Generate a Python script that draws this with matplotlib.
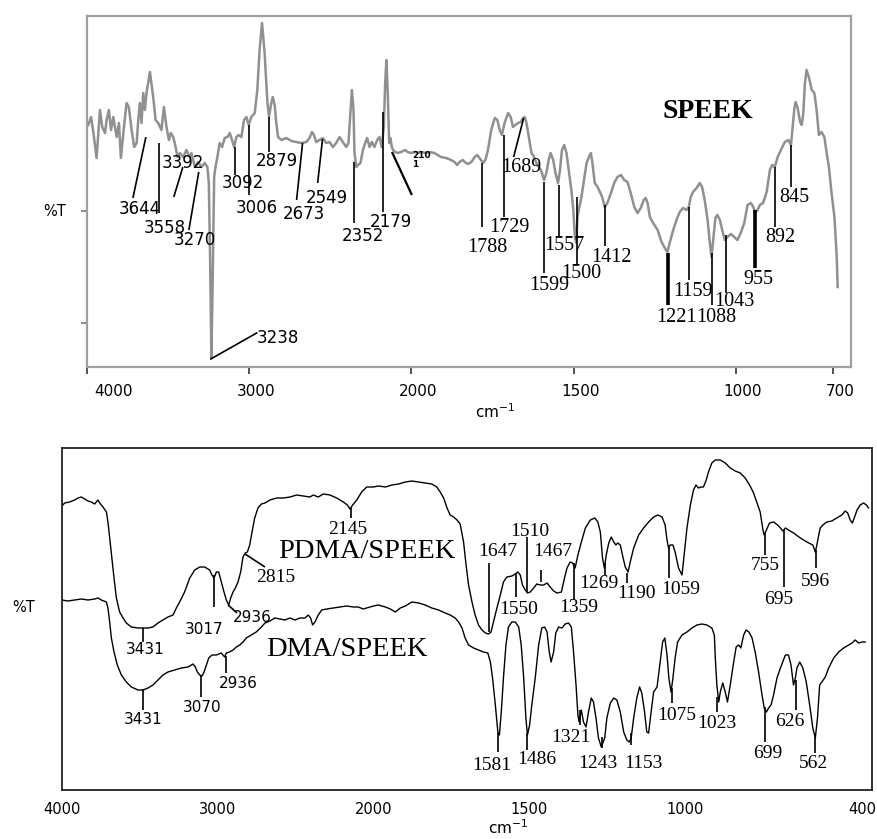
import numpy as np
import matplotlib
matplotlib.use("Agg")
import matplotlib.pyplot as plt
from matplotlib.transforms import ScaledTranslation

# ---------------- data (wavenumber cm-1, relative transmittance) ----------------
speek_wn = [3992, 3975, 3961, 3941, 3920, 3906, 3889, 3879, 3865, 3852, 3838, 3817, 3803, 3791, 3776, 3756,
            3742, 3725, 3709, 3694, 3684, 3674, 3664, 3653, 3643, 3633, 3612, 3592, 3577, 3561, 3541, 3526,
            3510, 3495, 3483, 3469, 3459, 3442, 3428, 3407, 3387, 3366, 3356, 3335, 3315, 3294, 3274, 3258,
            3249, 3241, 3233, 3225, 3216, 3208, 3196, 3182, 3167, 3151, 3134, 3120, 3106, 3093, 3079, 3065,
            3048, 3032, 3017, 3003, 2987, 2966, 2950, 2936, 2921, 2905, 2888, 2878, 2866, 2855, 2843, 2833,
            2822, 2802, 2771, 2740, 2710, 2679, 2648, 2628, 2613, 2601, 2587, 2566, 2546, 2525, 2505, 2484,
            2464, 2443, 2423, 2402, 2388, 2375, 2367, 2357, 2351, 2340, 2330, 2314, 2299, 2285, 2273, 2258,
            2244, 2228, 2211, 2197, 2183, 2170, 2162, 2154, 2146, 2137, 2129, 2121, 2113, 2100, 2084, 2064,
            2039, 2023, 2002, 1991, 1981, 1970, 1955, 1945, 1929, 1919, 1909, 1893, 1878, 1867, 1859, 1852,
            1842, 1836, 1826, 1815, 1805, 1797, 1790, 1779, 1772, 1764, 1754, 1743, 1735, 1728, 1721, 1713,
            1702, 1694, 1687, 1680, 1671, 1663, 1656, 1651, 1646, 1638, 1630, 1622, 1612, 1601, 1591, 1584,
            1577, 1571, 1563, 1556, 1548, 1542, 1536, 1529, 1522, 1515, 1507, 1501, 1496, 1492, 1488, 1484,
            1476, 1468, 1460, 1453, 1447, 1442, 1435, 1426, 1419, 1412, 1404, 1396, 1385, 1375, 1365, 1354,
            1344, 1334, 1324, 1313, 1303, 1293, 1284, 1278, 1272, 1265, 1255, 1241, 1229, 1219, 1211, 1204,
            1193, 1183, 1173, 1163, 1152, 1145, 1139, 1132, 1121, 1111, 1104, 1096, 1087, 1080, 1075, 1069,
            1063, 1057, 1049, 1042, 1034, 1026, 1015, 1005, 995, 985, 974, 964, 954, 946, 941, 933,
            926, 916, 905, 895, 888, 880, 871, 861, 849, 838, 830, 825, 820, 816, 810, 802,
            797, 792, 787, 782, 775, 766, 758, 751, 744, 736, 727, 720, 713, 705, 696, 689, 686]
speek_T = [242, 250, 235, 209, 257, 240, 234, 247, 257, 237, 250, 230, 244, 209, 234, 264,
           260, 237, 220, 224, 247, 264, 244, 274, 257, 274, 295, 270, 247, 244, 237, 260,
           240, 227, 234, 230, 224, 210, 214, 210, 217, 210, 214, 200, 205, 200, 204, 200,
           184, 107, 9, 90, 190, 200, 210, 224, 220, 229, 230, 234, 227, 220, 230, 232,
           230, 247, 250, 242, 250, 254, 277, 317, 344, 314, 265, 250, 262, 270, 262, 244,
           230, 227, 229, 226, 225, 224, 225, 229, 235, 232, 225, 227, 229, 224, 225, 220,
           224, 230, 225, 220, 224, 257, 277, 257, 214, 200, 202, 204, 217, 224, 229, 220,
           225, 220, 227, 230, 220, 240, 284, 307, 274, 224, 229, 220, 217, 215, 214, 215,
           217, 215, 214, 215, 214, 215, 214, 215, 214, 212, 210, 209, 207, 205, 202, 205,
           207, 205, 203, 205, 210, 212, 209, 204, 207, 217, 237, 249, 247, 237, 232, 244,
           254, 250, 240, 242, 244, 245, 249, 250, 245, 230, 214, 210, 202, 197, 187, 194,
           207, 214, 207, 194, 184, 197, 217, 222, 214, 197, 177, 157, 130, 124, 150, 157,
           170, 187, 204, 210, 214, 204, 184, 180, 175, 170, 160, 164, 174, 184, 190, 192,
           187, 185, 174, 160, 154, 159, 167, 169, 164, 150, 144, 137, 125, 119, 115, 124,
           137, 147, 155, 159, 157, 160, 170, 175, 179, 184, 180, 167, 147, 124, 110, 130,
           149, 152, 147, 137, 127, 130, 133, 130, 127, 134, 144, 162, 164, 160, 154, 157,
           162, 164, 175, 197, 202, 200, 210, 217, 225, 227, 222, 240, 257, 265, 260, 245,
           242, 254, 284, 297, 290, 277, 274, 257, 232, 235, 230, 214, 200, 174, 150, 110, 80]

pdma_wn = [4000, 3983, 3951, 3919, 3897, 3876, 3855, 3833, 3812, 3790, 3780, 3769, 3758, 3737, 3715, 3705,
           3694, 3683, 3666, 3651, 3630, 3608, 3587, 3555, 3512, 3480, 3448, 3416, 3384, 3352, 3320, 3287,
           3266, 3245, 3213, 3180, 3148, 3116, 3084, 3052, 3037, 3024, 3009, 2994, 2977, 2960, 2945, 2930,
           2917, 2902, 2887, 2870, 2853, 2838, 2823, 2810, 2795, 2780, 2763, 2742, 2720, 2697, 2665, 2622,
           2579, 2536, 2494, 2451, 2408, 2387, 2355, 2322, 2280, 2237, 2194, 2168, 2151, 2134, 2108, 2076,
           2044, 2001, 1984, 1962, 1941, 1920, 1898, 1877, 1855, 1834, 1813, 1797, 1786, 1775, 1764, 1754,
           1743, 1732, 1722, 1711, 1703, 1695, 1684, 1674, 1663, 1652, 1641, 1631, 1623, 1615, 1604, 1593,
           1583, 1572, 1556, 1545, 1537, 1529, 1522, 1513, 1506, 1497, 1486, 1476, 1465, 1454, 1443, 1433,
           1422, 1411, 1397, 1387, 1379, 1369, 1361, 1353, 1344, 1333, 1320, 1304, 1290, 1280, 1272, 1265,
           1259, 1253, 1245, 1237, 1229, 1222, 1216, 1208, 1201, 1192, 1183, 1176, 1165, 1149, 1133, 1117,
           1101, 1087, 1074, 1064, 1058, 1053, 1048, 1039, 1032, 1021, 1010, 1003, 994, 983, 973, 965,
           957, 949, 941, 932, 925, 914, 903, 887, 871, 855, 839, 823, 807, 793, 780, 769,
           759, 750, 746, 739, 729, 716, 703, 694, 686, 678, 668, 652, 630, 609, 590, 582,
           577, 571, 566, 558, 545, 529, 513, 497, 486, 478, 470, 463, 457, 448, 438, 427, 418, 411]
pdma_T = [284, 287, 288, 290, 292, 293, 291, 289, 288, 286, 288, 290, 287, 283, 278, 268,
          252, 235, 212, 192, 178, 172, 167, 163, 162, 162, 162, 163, 167, 170, 173, 175,
          182, 188, 198, 212, 220, 223, 223, 220, 215, 212, 218, 218, 208, 198, 190, 185,
          192, 198, 202, 208, 218, 233, 237, 238, 245, 258, 272, 282, 286, 287, 290, 292,
          292, 293, 295, 294, 293, 295, 293, 296, 295, 292, 288, 285, 281, 285, 290, 298,
          303, 303, 304, 303, 305, 306, 308, 309, 308, 307, 306, 303, 298, 292, 282, 275,
          273, 270, 266, 248, 225, 205, 188, 175, 165, 160, 157, 156, 158, 168, 182, 195,
          208, 213, 214, 216, 218, 215, 205, 200, 197, 198, 202, 206, 205, 205, 207, 203,
          199, 197, 198, 212, 222, 228, 227, 222, 235, 248, 262, 270, 272, 268, 258, 232,
          222, 235, 247, 253, 248, 245, 247, 245, 235, 223, 218, 228, 242, 255, 262, 268,
          273, 275, 273, 265, 250, 242, 245, 245, 238, 222, 215, 235, 262, 285, 300, 305,
          302, 303, 303, 310, 318, 327, 330, 330, 327, 322, 319, 317, 312, 305, 297, 287,
          278, 260, 255, 260, 267, 268, 265, 262, 259, 262, 260, 257, 252, 248, 245, 238,
          245, 255, 262, 265, 268, 269, 272, 275, 279, 277, 270, 267, 272, 280, 285, 287, 285, 282]

dma_wn = [4000, 3962, 3919, 3876, 3833, 3790, 3769, 3748, 3715, 3705, 3694, 3683, 3666, 3645, 3619, 3587,
          3555, 3512, 3480, 3448, 3416, 3384, 3352, 3320, 3277, 3234, 3191, 3159, 3144, 3131, 3116, 3101,
          3088, 3073, 3058, 3037, 3009, 2977, 2956, 2945, 2924, 2902, 2881, 2859, 2838, 2817, 2785, 2753,
          2720, 2697, 2665, 2633, 2601, 2569, 2536, 2504, 2472, 2440, 2419, 2404, 2391, 2376, 2355, 2333,
          2301, 2258, 2215, 2173, 2130, 2098, 2066, 2044, 2001, 1984, 1962, 1946, 1930, 1914, 1898, 1877,
          1855, 1834, 1813, 1791, 1770, 1754, 1738, 1727, 1716, 1706, 1695, 1679, 1663, 1647, 1633, 1625,
          1618, 1609, 1601, 1596, 1590, 1583, 1575, 1567, 1556, 1545, 1534, 1526, 1518, 1511, 1506, 1499,
          1492, 1481, 1470, 1460, 1451, 1443, 1436, 1430, 1422, 1415, 1406, 1395, 1385, 1374, 1365, 1358,
          1350, 1344, 1340, 1333, 1326, 1318, 1310, 1301, 1294, 1286, 1278, 1269, 1258, 1251, 1240, 1229,
          1219, 1208, 1197, 1187, 1179, 1173, 1165, 1155, 1146, 1139, 1130, 1123, 1117, 1109, 1101, 1090,
          1080, 1072, 1065, 1058, 1052, 1045, 1039, 1032, 1024, 1010, 994, 978, 962, 946, 930, 914,
          906, 903, 898, 892, 887, 879, 871, 864, 855, 844, 836, 828, 821, 812, 804, 795,
          785, 775, 764, 753, 746, 739, 732, 724, 716, 705, 694, 678, 668, 660, 652, 646,
          641, 632, 622, 611, 600, 590, 582, 575, 568, 561, 550, 539, 523, 507, 491, 475,
          464, 454, 443, 432, 422]
dma_T = [190, 189, 190, 191, 190, 191, 192, 190, 188, 182, 168, 152, 138, 125, 115, 108,
         103, 100, 100, 102, 105, 110, 115, 118, 120, 122, 123, 126, 123, 118, 115, 114,
         118, 125, 132, 135, 135, 137, 133, 137, 138, 140, 143, 145, 148, 152, 155, 158,
         163, 167, 169, 172, 171, 170, 172, 170, 172, 172, 175, 172, 165, 168, 175, 180,
         181, 182, 183, 184, 183, 183, 181, 182, 184, 185, 183, 181, 178, 182, 184, 188,
         187, 185, 182, 180, 177, 175, 172, 168, 162, 152, 145, 142, 140, 138, 137, 128,
         112, 85, 58, 55, 78, 112, 145, 163, 168, 168, 163, 145, 112, 72, 55, 65,
         85, 112, 145, 162, 163, 158, 138, 128, 138, 157, 163, 162, 166, 167, 163, 138,
         105, 75, 68, 80, 68, 63, 78, 92, 88, 72, 52, 43, 52, 72, 87, 92,
         90, 78, 58, 50, 48, 52, 72, 92, 103, 97, 78, 58, 57, 78, 98, 103,
         128, 148, 152, 135, 112, 98, 112, 132, 148, 155, 158, 162, 165, 166, 165, 162,
         155, 132, 105, 88, 98, 107, 98, 88, 105, 128, 143, 145, 142, 155, 160, 158,
         152, 138, 118, 95, 82, 78, 82, 85, 95, 112, 122, 135, 135, 125, 105, 112,
         122, 128, 122, 108, 85, 62, 52, 72, 105, 108, 113, 122, 132, 138, 142, 145,
         147, 150, 147, 148, 148]

# peak annotations: (label, line start wn, line start T, line end wn, line end T, text wn, text T)
speek_peaks_sans = [
    ("3644", 3637, 230, 3717, 169, 3674, 158),
    ("3558", 3557, 224, 3557, 154, 3520, 139),
    ("3392", 3409, 200, 3465, 170, 3409, 204),
    ("3270", 3311, 195, 3372, 137, 3335, 127),
    ("3092", 3089, 220, 3089, 192, 3040, 184),
    ("3006", 3003, 242, 3003, 172, 2954, 159),
    ("2879", 2880, 250, 2880, 215, 2831, 206),
    ("2673", 2671, 224, 2708, 167, 2665, 153),
    ("2549", 2548, 228, 2578, 184, 2523, 169),
    ("2352", 2351, 205, 2351, 144, 2301, 131),
    ("2179", 2178, 255, 2178, 155, 2129, 145),
]
speek_peak_3238 = ("3238", 3237, 8, 2954, 34, 2954, 29)
speek_peak_2101 = ("210\n1", 2117, 214, 2000, 173, 1997, 207)
speek_peaks_serif = [
    ("1788", 1781, 204, 1781, 140, 1765, 120),
    ("1729", 1716, 232, 1716, 150, 1698, 139),
    ("1689", 1654, 249, 1685, 210, 1661, 199),
    ("1599", 1590, 185, 1590, 94, 1574, 81),
    ("1557", 1546, 182, 1546, 131, 1528, 122),
    ("1500", 1491, 170, 1491, 102, 1475, 93),
    ("1412", 1404, 162, 1404, 121, 1383, 109),
    ("1221", 1210, 114, 1210, 62, 1182, 50),
    ("1159", 1145, 160, 1145, 87, 1133, 76),
    ("1088", 1074, 114, 1074, 62, 1059, 49),
    ("1043", 1031, 132, 1031, 74, 1006, 65),
    ("955", 942, 157, 942, 99, 932, 87),
    ("892", 880, 200, 880, 140, 864, 130),
    ("845", 830, 222, 830, 180, 821, 169),
]
thick_peaks = ["1221", "955"]

blend_peaks_sans = [
    ("3431", 3480, 162, 3480, 148, 3467, 141),
    ("3017", 3024, 215, 3024, 183, 3088, 161),
    ("2936", 2934, 185, 2876, 177, 2780, 172),
    ("3431", 3480, 101, 3480, 80, 3480, 71),
    ("3070", 3108, 115, 3108, 93, 3101, 83),
    ("2936", 2947, 134, 2947, 117, 2870, 106),
]
blend_peaks_serif = [
    ("2815", 2825, 236, 2697, 223, 2626, 213),
    ("2145", 2145, 282, 2145, 272, 2164, 261),
    ("1647", 1628, 158, 1628, 227, 1602, 238),
    ("1510", 1506, 198, 1506, 253, 1499, 259),
    ("1550", 1544, 217, 1544, 193, 1535, 180),
    ("1467", 1461, 208, 1461, 220, 1425, 238),
    ("1359", 1358, 227, 1358, 190, 1342, 182),
    ("1269", 1258, 227, 1258, 215, 1278, 206),
    ("1190", 1185, 217, 1185, 207, 1156, 196),
    ("1059", 1053, 243, 1053, 212, 1015, 200),
    ("755", 745, 257, 745, 235, 742, 224),
    ("695", 681, 260, 681, 203, 700, 191),
    ("596", 581, 240, 581, 222, 581, 209),
    ("1581", 1602, 57, 1602, 38, 1621, 25),
    ("1486", 1509, 57, 1509, 40, 1477, 31),
    ("1321", 1336, 80, 1336, 65, 1368, 52),
    ("1243", 1268, 53, 1268, 42, 1281, 27),
    ("1153", 1172, 57, 1172, 45, 1133, 27),
    ("1075", 1043, 102, 1043, 87, 1027, 74),
    ("1023", 896, 93, 896, 78, 899, 67),
    ("699", 742, 83, 742, 48, 735, 37),
    ("626", 645, 110, 645, 80, 665, 69),
    ("562", 584, 53, 584, 37, 587, 27),
]

top_ticks = [4000, 3000, 2000, 1500, 1000, 700]
bottom_ticks = [4000, 3000, 2000, 1500, 1000, 400]

# ---------------- scale: wavenumbers above 2000 compressed by 2 ----------------
def fwd(w):
    w = np.asarray(w, dtype=float)
    return np.where(w > 2000, 2000 + (w - 2000) / 2.0, w)

def inv(u):
    u = np.asarray(u, dtype=float)
    return np.where(u > 2000, 2000 + (u - 2000) * 2.0, u)

SANS = "DejaVu Sans"
SERIF = "Liberation Serif"
plt.rcParams["mathtext.fontset"] = "dejavusans"

fig = plt.figure(figsize=(8.77, 8.39), dpi=100)
W, H = 877, 839
ax1 = fig.add_axes([87 / W, 1 - 367 / H, 764 / W, 351 / H])
ax2 = fig.add_axes([62 / W, 1 - 790 / H, 810 / W, 342 / H])

for ax in (ax1, ax2):
    ax.set_xscale("function", functions=(fwd, inv))

# ---------------- top panel ----------------
ax1.plot(speek_wn, speek_T, color="#909090", lw=1.8, solid_joinstyle="round")
ax1.set_xlim(4000, 645)
ax1.set_ylim(0, 351)
for s in ax1.spines.values():
    s.set_color("#a0a0a0")
    s.set_linewidth(1.6)
ax1.set_xticks(top_ticks)
ax1.set_xticklabels([str(t) for t in top_ticks], fontfamily=SANS, fontsize=11)
ax1.tick_params(axis="x", direction="out", length=5, width=1.2, color="#333333", pad=7)
ax1.set_yticks([44, 156])
ax1.set_yticklabels([])
ax1.tick_params(axis="y", direction="out", length=4, width=1.2, color="#777777")
off = ScaledTranslation(7 / 100, 0, fig.dpi_scale_trans)
for lab in ax1.get_xticklabels():
    lab.set_transform(lab.get_transform() + off)
ax1.get_xticklabels()[0].set_horizontalalignment("left")
ax1.text(-0.042, 156 / 351, "%T", transform=ax1.transAxes, ha="center", va="center",
         fontfamily=SANS, fontsize=10.5)

def annotate(ax, items, family, size, thick=()):
    for lab, x0, y0, x1, y1, tx, ty in items:
        ax.plot([x0, x1], [y0, y1], color="black", lw=2.6 if lab in thick else 1.2,
                solid_capstyle="butt")
        ax.text(tx, ty, lab, ha="center", va="center", fontfamily=family, fontsize=size)

annotate(ax1, speek_peaks_sans, SANS, 12)
annotate(ax1, speek_peaks_serif, SERIF, 14.5, thick_peaks)
lab, x0, y0, x1, y1, tx, ty = speek_peak_3238
ax1.plot([x0, x1], [y0, y1], color="black", lw=1.2)
ax1.text(tx, ty, lab, ha="left", va="center", fontfamily=SANS, fontsize=12)
lab, x0, y0, x1, y1, tx, ty = speek_peak_2101
ax1.plot([x0, x1], [y0, y1], color="black", lw=1.6)
ax1.text(tx, ty, lab, ha="left", va="center", fontfamily=SANS, fontsize=6.5,
         fontweight="bold", linespacing=1.0)
ax1.text(1087, 256, "SPEEK", ha="center", va="center", fontfamily=SERIF, fontsize=20,
         fontweight="bold")

# ---------------- bottom panel ----------------
ax2.plot(pdma_wn, pdma_T, color="black", lw=1.0)
ax2.plot(dma_wn, dma_T, color="black", lw=1.0)
ax2.set_xlim(4000, 400)
ax2.set_ylim(0, 342)
for s in ax2.spines.values():
    s.set_color("#222222")
    s.set_linewidth(1.3)
ax2.set_xticks(bottom_ticks)
ax2.set_xticklabels([str(t) for t in bottom_ticks], fontfamily=SANS, fontsize=10.5)
ax2.tick_params(axis="x", length=0, pad=9)
last = ax2.get_xticklabels()[-1]
last.set_horizontalalignment("right")
last.set_transform(last.get_transform() + ScaledTranslation(4 / 100, 0, fig.dpi_scale_trans))
ax2.set_yticks([])
ax2.text(-0.047, 183 / 342, "%T", transform=ax2.transAxes, ha="center", va="center",
         fontfamily=SANS, fontsize=10.5)
annotate(ax2, blend_peaks_sans, SANS, 11)
annotate(ax2, blend_peaks_serif, SERIF, 14)
ax2.text(2042, 238, "PDMA/SPEEK", ha="center", va="center", fontfamily=SERIF, fontsize=20.5)
ax2.text(2170, 140, "DMA/SPEEK", ha="center", va="center", fontfamily=SERIF, fontsize=20.5)

fig.text(495 / W, 1 - 412 / H, "cm$^{-1}$", ha="center", va="center", fontsize=11)
fig.text(508 / W, 1 - 828 / H, "cm$^{-1}$", ha="center", va="center", fontsize=11)

fig.savefig("out.png", dpi=100)
